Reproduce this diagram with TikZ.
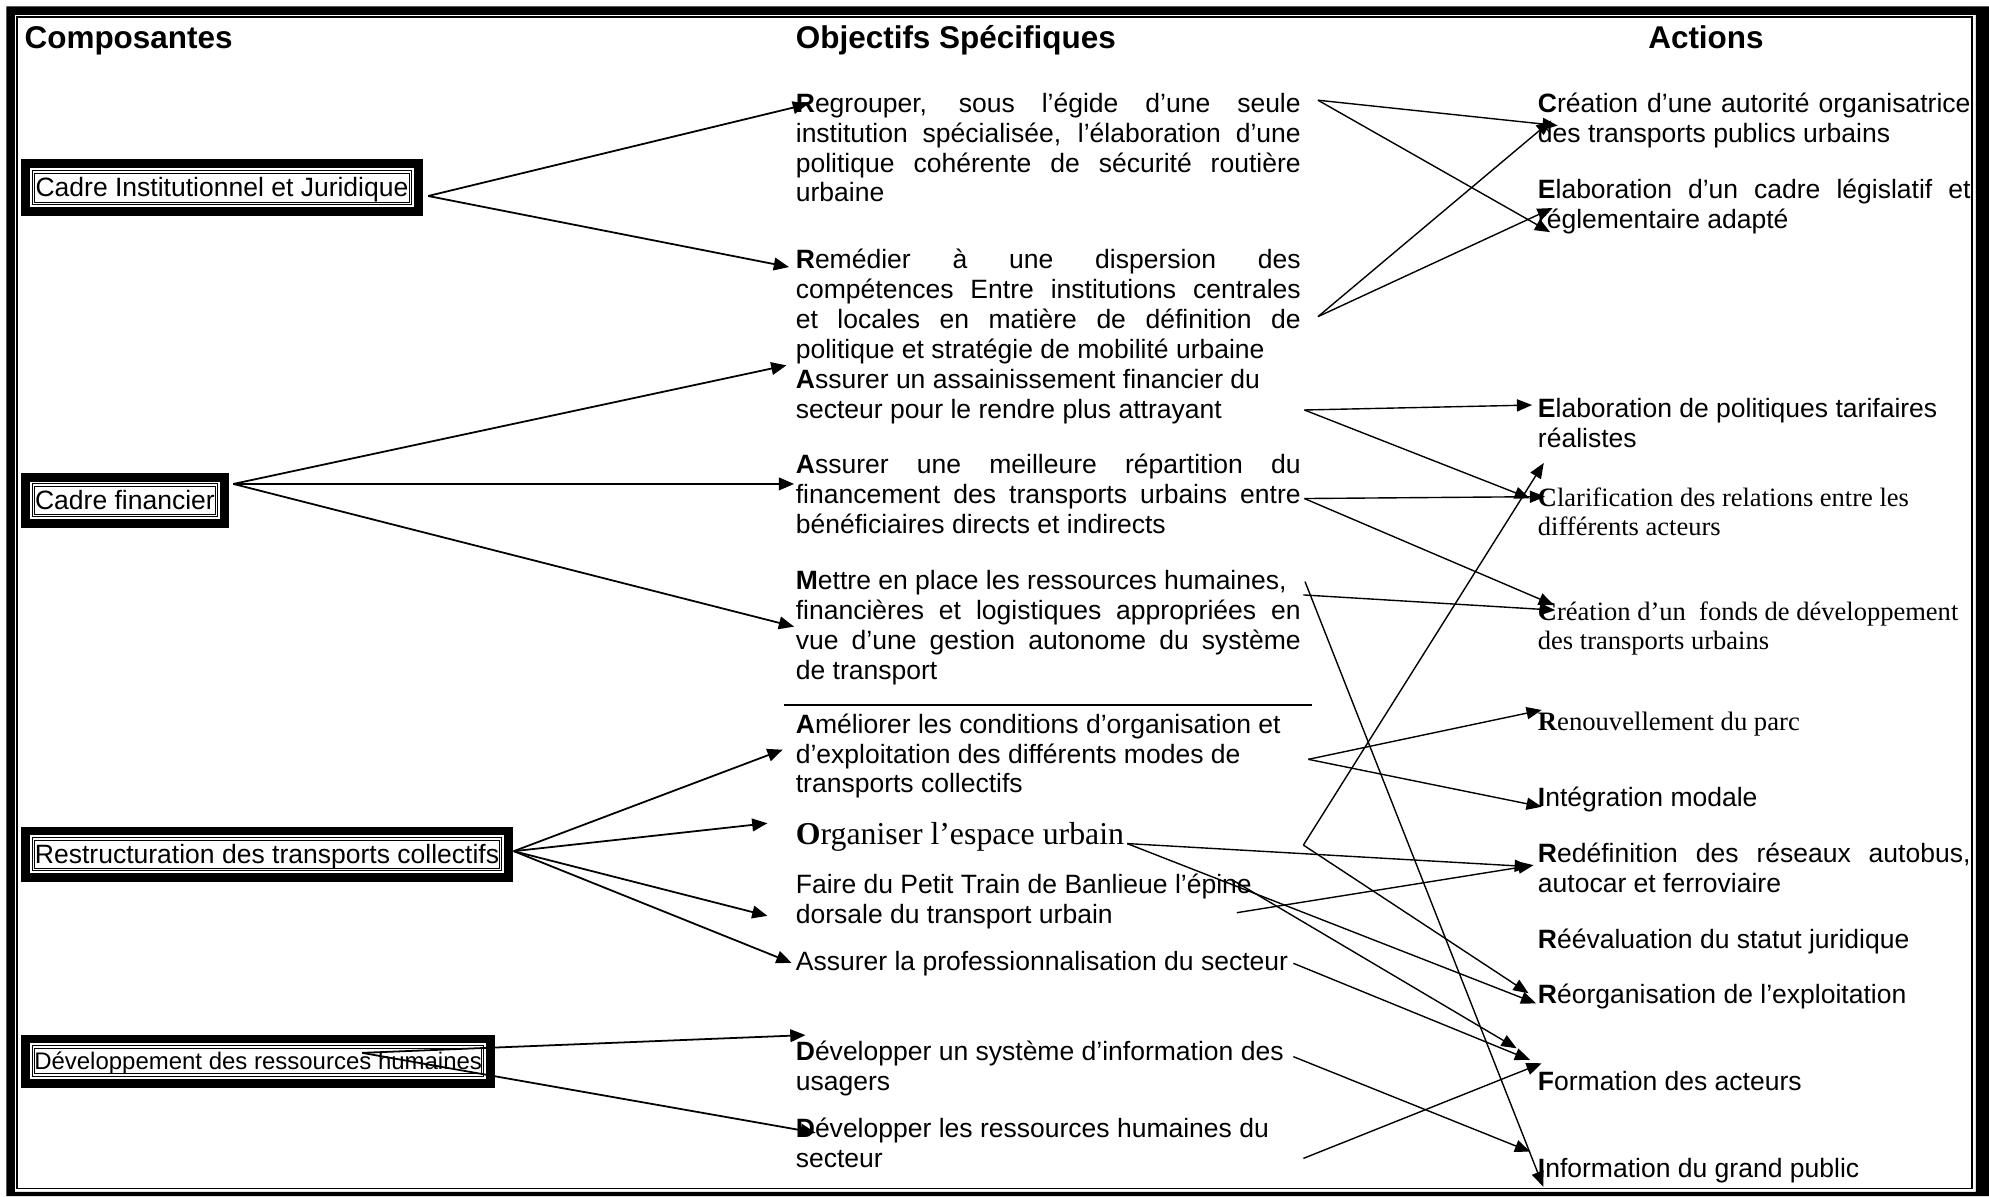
\documentclass[tikz,border=0pt]{standalone}
\usepackage{fontspec}
\setmainfont{Liberation Sans}
\setsansfont{Liberation Sans}
\newfontfamily\tms{Liberation Serif}
\usetikzlibrary{arrows.meta}
\hyphenpenalty=10000
\exhyphenpenalty=10000
\newcommand\myfl{\noindent\rule{0pt}{10pt}}
\begin{document}
\begin{tikzpicture}[x=0.5pt,y=-0.5pt,
  every node/.style={inner sep=0pt},
  hdr/.style={anchor=base west, font=\fontsize{12.4}{14}\selectfont\bfseries},
  objj/.style={anchor=north west, text width=199pt, align=justify, font=\fontsize{10.45}{11.8}\selectfont},
  objl/.style={anchor=north west, align=left, font=\fontsize{10.45}{11.8}\selectfont},
  actj/.style={anchor=north west, text width=170.5pt, align=justify, font=\fontsize{10.45}{11.8}\selectfont},
  actl/.style={objl},
  actt/.style={anchor=north west, align=left, font=\tms\fontsize{10.45}{11.5}\selectfont},
  oneline/.style={anchor=base west, font=\fontsize{10.45}{11.8}\selectfont},
  onetms/.style={anchor=base west, font=\tms\fontsize{10.5}{11.5}\selectfont},
  compbox/.style={draw, line width=0.4pt, double=white, double distance=0.6pt, text height=8pt, text depth=1pt, font=\fontsize{10.45}{11.8}\selectfont},
  ringline/.style={line width=3.5pt},
  larr/.style={line width=0.7pt, -{Triangle[length=6pt,width=5pt]}},
  rarr/.style={line width=0.55pt, -{Triangle[length=6pt,width=4.8pt]}},
]
\useasboundingbox (0,0) rectangle (1568,943);
% page frame
\fill[even odd rule] (5,5) rectangle (1568,943) (11.8,11.8) rectangle (1557.7,939.5);
\draw[line width=0.6pt] (13.6,13.6) rectangle (1554.6,936.8);

% headers
\node[hdr] (h1) at (19,38) {Composantes};
\node[hdr] (h2) at (627,38) {Objectifs Spécifiques};
\node[hdr] (h3) at (1299,38) {Actions};

% composantes
\node[compbox, minimum width=148.5pt, minimum height=12.5pt] (c1) at (175,148) {Cadre Institutionnel et Juridique};
\node[compbox, minimum width=72pt, minimum height=12pt] (c2) at (98.5,394.5) {Cadre financier};
\node[compbox, minimum width=184pt, minimum height=12pt] (c3) at (210.5,673.5) {Restructuration des transports collectifs};
\node[compbox, minimum width=177pt, minimum height=11pt, font=\fontsize{9.45}{11}\selectfont] (c4) at (203.5,836.5) {Développement des ressources humaines};
\foreach \n in {c1,c2,c3,c4}
  \draw[ringline] ([shift={(-3pt,-3pt)}]\n.south west) rectangle ([shift={(3pt,3pt)}]\n.north east);

% objectifs
\node[objj] (o1) at (627,68) {\myfl{\bfseries R}egrouper, sous l’égide d’une seule\linebreak institution spécialisée, l’élaboration d’une\linebreak politique cohérente de sécurité routière\linebreak urbaine};
\node[objj] (o2) at (627,191.5) {\myfl{\bfseries R}emédier à une dispersion des\linebreak compétences Entre institutions centrales\linebreak et locales en matière de définition de\linebreak politique et stratégie de mobilité urbaine};
\node[objl] (o3) at (627,286) {\myfl{\bfseries A}ssurer un assainissement financier du\\ secteur pour le rendre plus attrayant};
\node[objj] (o4) at (627,352.6) {\myfl{\bfseries A}ssurer une meilleure répartition du\linebreak financement des transports urbains entre\linebreak bénéficiaires directs et indirects};
\node[objj] (o5) at (627,444.6) {\myfl{\bfseries M}ettre en place les ressources humaines,\newline financières et logistiques appropriées en\linebreak vue d’une gestion autonome du système\linebreak de transport};
\draw[line width=0.8pt] (618,556) -- (1034,556);
\node[objl] (o6) at (627,557.5) {\myfl{\bfseries A}méliorer les conditions d’organisation et\\ d’exploitation des différents modes de\\ transports collectifs};
\node[anchor=base west, font=\tms\fontsize{12.55}{14}\selectfont] (o7) at (627,666) {{\bfseries O}rganiser l’espace urbain};
\node[objl] (o8) at (627,684.2) {\myfl Faire du Petit Train de Banlieue l’épine\\ dorsale du transport urbain};
\node[oneline] (o9) at (627,764.7) {Assurer la professionnalisation du secteur};
\node[objl] (o10) at (627,815.6) {\myfl{\bfseries D}évelopper un système d’information des\\ usagers};
\node[objl] (o11) at (627,876) {\myfl{\bfseries D}évelopper les ressources humaines du\\ secteur};

% actions
\node[actj] (a1) at (1212,68) {\myfl{\bfseries C}réation d’une autorité organisatrice\linebreak des transports publics urbains};
\node[actj] (a2) at (1212,136) {\myfl{\bfseries E}laboration d’un cadre législatif et\linebreak réglementaire adapté};
\node[actl] (a3) at (1212,309) {\myfl{\bfseries E}laboration de politiques tarifaires\\ réalistes};
\node[actt] (a4) at (1212,378.5) {\myfl{\bfseries C}larification des relations entre les\\ différents acteurs};
\node[actt] (a5) at (1212,469) {\myfl{\bfseries C}réation d’un\ \ fonds de développement\\ des transports urbains};
\node[onetms] (a6) at (1212,575.5) {{\bfseries R}enouvellement du parc};
\node[oneline] (a7) at (1212,636) {{\bfseries I}ntégration modale};
\node[actj] (a8) at (1212,659.5) {\myfl{\bfseries R}edéfinition des réseaux autobus,\linebreak autocar et ferroviaire};
\node[oneline] (a9) at (1212,747.6) {{\bfseries R}éévaluation du statut juridique};
\node[oneline] (a10) at (1212,791) {{\bfseries R}éorganisation de l’exploitation};
\node[oneline] (a11) at (1212,859.5) {{\bfseries F}ormation des acteurs};
\node[oneline] (a12) at (1212,928.5) {{\bfseries I}nformation du grand public};

% left connectors
\coordinate (s1) at (337.5,154.5);
\coordinate (s2) at (184,381.5);
\coordinate (s3) at (405,671);
\coordinate (s4) at (285.5,830);
\coordinate (t1) at (637,82);
\coordinate (t2) at (622,210.5);
\coordinate (t3) at (620,288);
\coordinate (t4) at (626,381.5);
\coordinate (t5) at (626,494);
\coordinate (t6) at (617,591);
\coordinate (t7) at (605,649);
\coordinate (t8) at (605,722);
\coordinate (t9) at (624,759);
\coordinate (t10) at (635,816);
\coordinate (t11) at (643,893);
\draw[larr] (s1) -- (t1);
\draw[larr] (s1) -- (t2);
\draw[larr] (s2) -- (t3);
\draw[larr] (s2) -- (t4);
\draw[larr] (s2) -- (t5);
\draw[larr] (s3) -- (t6);
\draw[larr] (s3) -- (t7);
\draw[larr] (s3) -- (t8);
\draw[larr] (s3) -- (t9);
\draw[larr] (s4) -- (t10);
\draw[larr] (s4) -- (t11);

% right connectors: start points
\coordinate (e1) at (1039,79);
\coordinate (e2) at (1039,249.6);
\coordinate (e3) at (1028.3,323.2);
\coordinate (e4) at (1028.3,393);
\coordinate (e5) at (1027.5,469);
\coordinate (e5b) at (1028.8,458.5);
\coordinate (e6) at (1031.4,598.6);
\coordinate (ev) at (1027.5,666.2);
\coordinate (e7) at (888.5,665);
\coordinate (e8) at (975,719.5);
\coordinate (e8b) at (972,694);
\coordinate (e9) at (1019.6,759.4);
\coordinate (e10) at (1019.6,833);
\coordinate (e11) at (1027.5,913.2);
% tips
\coordinate (p1a) at (1228,99);
\coordinate (p1b) at (1223,95);
\coordinate (p2a) at (1222,183);
\coordinate (p2b) at (1224,164);
\coordinate (p3) at (1207.8,319.3);
\coordinate (p4a) at (1206,392.9);
\coordinate (p4b) at (1218,391.5);
\coordinate (p5a) at (1225,477);
\coordinate (p5b) at (1226,481);
\coordinate (p12a) at (1216.6,935.5);
\coordinate (p6) at (1215.4,559.7);
\coordinate (p7) at (1215.4,636);
\coordinate (pup) at (1217,365);
\coordinate (p10a) at (1205,783);
\coordinate (p8a) at (1206,683.2);
\coordinate (p10b) at (1211,791);
\coordinate (p8b) at (1209,682);
\coordinate (p11a) at (1195.6,826.4);
\coordinate (p11b) at (1206.2,835.6);
\coordinate (p12b) at (1206.2,907.9);
\coordinate (p11c) at (1215.4,838.2);
\draw[rarr] (e1) -- (p1a);
\draw[rarr] (e1) -- (p2a);
\draw[rarr] (e2) -- (p1b);
\draw[rarr] (e2) -- (p2b);
\draw[rarr] (e3) -- (p3);
\draw[rarr] (e3) -- (p4a);
\draw[rarr] (e4) -- (p4b);
\draw[rarr] (e4) -- (p5a);
\draw[rarr] (e5) -- (p5b);
\draw[rarr] (e5b) -- (p12a);
\draw[rarr] (e6) -- (p6);
\draw[rarr] (e6) -- (p7);
\draw[rarr] (ev) -- (pup);
\draw[rarr] (ev) -- (p10a);
\draw[rarr] (e7) -- (p8a);
\draw[rarr] (e7) -- (p10b);
\draw[rarr] (e8) -- (p8b);
\draw[rarr] (e8b) -- (p11a);
\draw[rarr] (e9) -- (p11b);
\draw[rarr] (e10) -- (p12b);
\draw[rarr] (e11) -- (p11c);
\end{tikzpicture}
\end{document}
